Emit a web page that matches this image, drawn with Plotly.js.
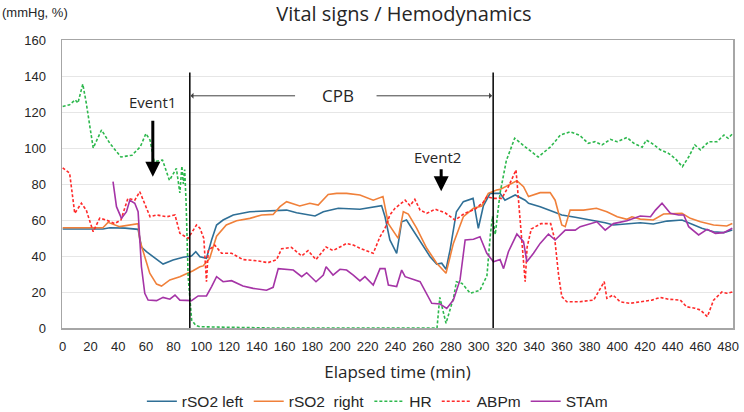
<!DOCTYPE html>
<html>
<head>
<meta charset="utf-8">
<script src="https://cdn.plot.ly/plotly-3.0.1.min.js"></script>
<style>html,body{margin:0;padding:0;background:#fff;}#chart{width:744px;height:412px;}</style>
</head>
<body>
<div id="chart"></div>
<script>
// ---- Data ----
const seriesNames = ["rSO2 left", "rSO2\u00a0 right", "HR", "ABPm", "STAm"];

const rso2LeftTime = [0,29,34,45,54.4,56.8,60.4,66.4,72.4,79.6,86.9,92.9,96,99,103.7,107.4,111,115.7,123,135,154.3,161.5,168.7,182,188,198.8,214.4,226.5,230,232.5,236,240.9,244.5,248,251.8,257.8,265,269.8,273.4,276.5,279.4,284,289,296,299.8,303.5,308.3,315.5,319,326.4,333.6,336,344.4,354,360,369.7,380.5,391.3,397.3,407,416.6,426,435.9,446.7,452.7,461,469.5,476.8,483];
const rso2LeftVal = [55,55,55.7,55.5,54.8,45,42.4,38.7,35.5,37.8,39.3,40,42.4,39.6,38.7,48.9,57.2,60,62.8,64.6,65,65.5,64,62.2,64.6,66.5,66,67.4,68,61.8,48.9,41.5,59,60,55.4,48,39.6,35.5,36,32.6,43.3,64.6,70.2,72,55.4,68,74.8,74.8,71,73.9,71,69.3,67.4,64.6,62.8,61.5,60,58.5,57.2,58,58.5,57.8,59.4,60,58,55.4,53.5,53,54.4];

const rso2RightTime = [0,29,32.7,41,54.4,55.6,59.2,62.8,67.7,71.3,77.3,84.5,94,99,101.3,106,111,118,125.4,135,143.5,151.8,156.7,161.5,171,178.3,184.3,191.5,197.6,204.8,214.4,224,231,234.9,242,245.7,249.3,255.4,262.6,269.8,276.5,281.8,289,296.3,302.3,307,313,315.5,327.6,332.4,336,344.4,351.6,355.2,360,362.5,366,375.7,385,392.5,400,407,410.6,416.6,426,433.4,446.7,452.7,460,469.5,479,483];
const rso2RightVal = [55.7,55.7,58.7,56.3,58,48.9,39.6,30.4,24.4,23.3,26.7,28.5,31.8,34,34.5,38.7,51,57.2,59.6,60.9,62.8,63.1,67.4,70.2,67.8,69.3,68.3,74.2,74.8,74.8,73.9,71,73,58,49.8,64.6,63.3,55.4,44.3,36,30.4,47,61.8,66.5,67.8,74.8,76.7,77,81.8,78.5,73,75.2,75.2,71,57.2,56.3,65.5,65.5,66.5,64.6,61.8,60.4,61.8,60.5,60,63.3,63.7,60.9,59,57.2,56.7,58];

const hrTime = [0,5,9,11,14.5,17,22,28,34,42,50,56,60,63,66,72,77,82,84.5,86,87,88,89,90.5,93,96,99,150,200,250,270,272,276.5,282,284,288,294,301,306,308.5,310,312,315.5,320,326,335,343,352,359,366,373,379,384,389,395,400,407,412,418,421,425,431,437,442,447,451.5,456,460,466,472,477,480,483];
const hrVal = [123,124,126.7,125,135.5,125,100,110,102.6,95,96,100.7,108,104.4,92.4,93.3,82,88.7,75,90,80,88,70,28.5,4.4,1.5,0.7,0,0,0,0,17,2.6,17,25.7,24.8,19.3,21,29,52,62,52,75,93,105.4,99.8,95,100.7,107.2,109,107,102.6,103.5,101.7,104.8,103.5,105.9,102.6,100.4,104.4,102.6,99,97,94,89.6,95,101.7,99,103.5,103.5,107.2,105.4,107.8];

const abpTime = [0,5,8.7,13.5,17,22,26.7,31.5,37.5,42,47,52,55.6,59,63,67.7,75,81,84.5,90.5,96.5,99,101.8,103.7,105,109.7,114.6,121.8,130,139.8,148.2,154.3,157.9,165,172.4,177,182.7,190,195,200,204.8,210,214.4,224,228.9,232.5,236,239.7,247,250.5,254,257.8,262.6,268.6,275.8,283,290,297.5,303.5,306,310.7,316.7,321.5,327,328.8,331,333.6,335,338,345,352,355,357.6,360,363.6,373,383,390.6,392.5,397,402,409,416.6,425,431,437,445.5,450,456,460,465,469.5,475.5,479,483];
const abpVal = [89,86,63.7,69.3,65.5,53.5,61,60,58,60,72,71,75.7,69,61.8,62.8,61.8,62.8,52.6,49.8,57.2,55.4,49.8,25.7,43,46,41.5,41.5,38,37.4,36.3,38,44,44.8,40,43,38,45,43,45,47,46,44.3,41.5,50.7,55.4,62.8,66.5,71,68,71.5,65.5,63.7,66,64,60,63.7,66,70,73,72,72,78.5,87.8,71,47,25.7,45,55,58,58,49,30,17.4,14.6,14.6,15.5,25.7,16.5,18.3,14.6,13.7,14.6,15.5,17,16,15.5,11.8,11,10,6.3,15.5,20,19.3,20];

const staTime = [36.3,38.8,42.4,46,48.4,52,54.4,56.8,59.2,61.6,67.7,72.4,77.3,81,84.5,92.9,97.7,103.7,107.4,111,115.7,121.8,130,137.4,147,151.8,155.5,161.5,166.3,172.4,176,182.7,188,190,195,200,204.8,209.6,214.4,218,224,228.9,232.5,234.9,240.9,244.5,247,257.8,262.6,266.2,272.2,277,281.8,286.6,290.3,296.3,301,305.9,310.7,315.5,318,321.5,327.6,332.4,334.8,339.6,344.4,350.4,355.2,362.5,369.7,373.3,385.3,391.3,397.3,407,416.6,424,427.6,432.3,438.3,444.3,448,451.5,458.7,464.8,470.8,476.8,483];
const staVal = [81.3,67.4,60.9,64.6,71,69.3,64.6,34,19.3,15.5,15.2,17,16,18.3,15.5,15.2,17.8,17.8,23,28.5,25.7,26.3,23.3,22,21,22.6,33,32.6,32.2,28.5,30.7,25.7,29.4,34,29.4,32.6,32.2,29.4,26.2,28.5,23.9,33,33,23.9,23,32.2,28.5,25.7,19.3,13.7,13.3,10.9,15.5,26.7,48.9,49.3,50.7,41.5,36.8,38,33,42.4,52.2,48,36.8,41.5,47,52.2,48.9,54.4,54.4,56.3,59,54.4,58,59.6,62.2,61.8,65.5,69.3,63.7,62.8,62.8,56.3,51.7,54.8,52.6,53,55.4];

const xTickVals = [0,20,40,60,80,100,120,140,160,180,200,220,240,260,280,300,320,340,360,380,400,420,440,460,480];
const yTickVals = [0,20,40,60,80,100,120,140,160];

// Events and CPB period (minutes / values)
const cpbStart = 91.7, cpbEnd = 310.5, cpbLineTop = 142;
const event1 = {t: 65, textY: 125.5, from: 116, to: 84};
const event2 = {t: 273, textY: 95, from: 89, to: 76};

// ---- Styles ----
const colors = ["#2F6F96", "#F0803A", "#2DB84D", "#FF2A2A", "#A534A6"];
const dashes = ["solid", "solid", "3px,2px", "3px,2px", "solid"];
const times = [rso2LeftTime, rso2RightTime, hrTime, abpTime, staTime];
const vals = [rso2LeftVal, rso2RightVal, hrVal, abpVal, staVal];

const traces = seriesNames.map((n, i) => ({
  type: "scatter", mode: "lines", name: n,
  x: times[i], y: vals[i],
  line: {color: colors[i], width: 1.6, dash: dashes[i]}
}));

const font = "Liberation Sans, Arial, sans-serif";
const wide = "Open Sans, Liberation Sans, sans-serif";
const layout = {
  width: 744, height: 412,
  margin: {l: 62, r: 11, t: 40, b: 84, autoexpand: false},
  paper_bgcolor: "#fff", plot_bgcolor: "#fff",
  font: {family: font, color: "#262626", size: 13},
  title: {text: "Vital signs / Hemodynamics", font: {family: wide, size: 20, color: "#262626"},
          x: 0.543, xanchor: "center", xref: "container", y: 0.965, yanchor: "middle", yref: "container"},
  showlegend: true,
  legend: {orientation: "h", x: 0.47, xanchor: "center", y: -0.256, yanchor: "middle",
           font: {family: font, size: 15.5, color: "#262626"}, itemwidth: 30, traceorder: "normal"},
  xaxis: {range: [-0.5, 483.5], tickvals: xTickVals, ticktext: xTickVals.map(String),
          showgrid: false, zeroline: false, showline: true, mirror: true, linecolor: "#a6a6a6", linewidth: 1.5,
          ticks: "", ticklabelstandoff: 6, tickfont: {size: 13, color: "#262626"},
          title: {text: "Elapsed time (min)", font: {family: wide, size: 17, color: "#262626"}, standoff: 13},
          automargin: false},
  yaxis: {range: [0, 160], tickvals: yTickVals, showgrid: true, gridcolor: "#e6e6e6", gridwidth: 1,
          zeroline: false, showline: true, mirror: true, linecolor: "#a6a6a6", linewidth: 1.5,
          ticks: "", ticklabelstandoff: 12, tickfont: {size: 13, color: "#262626"}, automargin: false},
  shapes: [
    {type: "line", xref: "x", yref: "y", x0: cpbStart, x1: cpbStart, y0: 0, y1: cpbLineTop, line: {color: "#000", width: 1.5}},
    {type: "line", xref: "x", yref: "y", x0: cpbEnd, x1: cpbEnd, y0: 0, y1: cpbLineTop, line: {color: "#000", width: 1.5}}
  ],
  annotations: [
    {xref: "paper", yref: "paper", x: -0.0924, y: 1.094, xanchor: "left", yanchor: "middle",
     text: "(mmHg, %)", showarrow: false, font: {size: 13, color: "#262626"}},
    {xref: "x", yref: "y", x: 198.6, y: 129, text: "CPB", showarrow: false, font: {family: wide, size: 17, color: "#262626"}},
    {xref: "x", yref: "y", x: cpbStart + 0.5, y: 129, ax: 168.7, ay: 129, axref: "x", ayref: "y",
     text: "", showarrow: true, arrowhead: 1, arrowsize: 1, arrowwidth: 1, arrowcolor: "#404040"},
    {xref: "x", yref: "y", x: cpbEnd - 0.8, y: 129, ax: 225.3, ay: 129, axref: "x", ayref: "y",
     text: "", showarrow: true, arrowhead: 1, arrowsize: 1, arrowwidth: 1, arrowcolor: "#404040"},
    {xref: "x", yref: "y", x: event1.t, y: event1.textY, text: "Event1", showarrow: false, font: {family: wide, size: 15, color: "#262626"}},
    {xref: "x", yref: "y", x: event1.t, y: event1.to, ax: event1.t, ay: event1.from, axref: "x", ayref: "y",
     text: "", showarrow: true, arrowhead: 2, arrowsize: 1, arrowwidth: 3, arrowcolor: "#000"},
    {xref: "x", yref: "y", x: 270, y: event2.textY, text: "Event2", showarrow: false, font: {family: wide, size: 15, color: "#262626"}},
    {xref: "x", yref: "y", x: event2.t, y: event2.to, ax: event2.t, ay: event2.from, axref: "x", ayref: "y",
     text: "", showarrow: true, arrowhead: 2, arrowsize: 1, arrowwidth: 3, arrowcolor: "#000"}
  ]
};

Plotly.newPlot("chart", traces, layout, {displayModeBar: false, staticPlot: true});
</script>
</body>
</html>
